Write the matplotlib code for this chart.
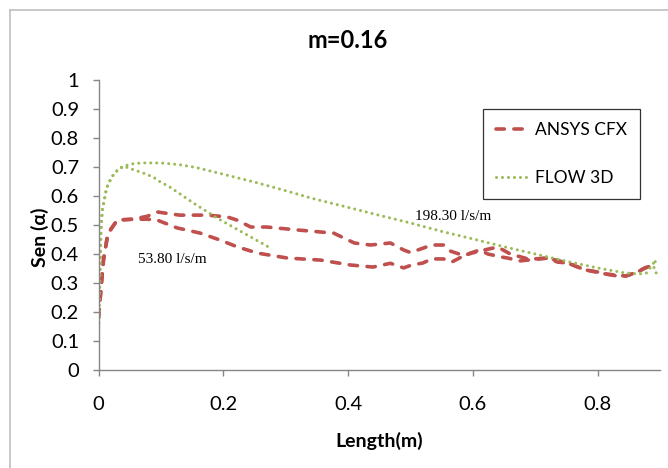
import matplotlib
matplotlib.use("Agg")
import matplotlib.pyplot as plt
from matplotlib.lines import Line2D

# ---- data ----
cfx_198_x = [0, 0.004, 0.008, 0.015, 0.03, 0.055, 0.078, 0.094, 0.13, 0.174, 0.206, 0.222, 0.244, 0.27,
             0.318, 0.377, 0.41, 0.436, 0.468, 0.489, 0.5, 0.52, 0.534, 0.553, 0.564, 0.585, 0.61, 0.64,
             0.66, 0.69, 0.72, 0.752, 0.781, 0.813, 0.845, 0.864, 0.876, 0.89]
cfx_198_y = [0.18, 0.28, 0.38, 0.47, 0.517, 0.52, 0.53, 0.545, 0.534, 0.534, 0.528, 0.517, 0.493, 0.493,
             0.483, 0.472, 0.438, 0.431, 0.438, 0.414, 0.405, 0.42, 0.431, 0.431, 0.41, 0.395, 0.41, 0.424,
             0.40, 0.382, 0.386, 0.369, 0.345, 0.331, 0.324, 0.338, 0.352, 0.362]

cfx_53_x = [0, 0.004, 0.008, 0.015, 0.03, 0.055, 0.078, 0.094, 0.126, 0.163, 0.195, 0.222, 0.255, 0.303,
            0.356, 0.404, 0.44, 0.468, 0.489, 0.502, 0.52, 0.534, 0.553, 0.566, 0.582, 0.596, 0.611, 0.624,
            0.645, 0.656, 0.675, 0.688, 0.707, 0.72, 0.736, 0.752, 0.768, 0.781, 0.8, 0.813, 0.832, 0.845,
            0.864, 0.876, 0.89]
cfx_53_y = [0.18, 0.28, 0.38, 0.47, 0.517, 0.52, 0.52, 0.517, 0.49, 0.472, 0.448, 0.425, 0.403, 0.386,
            0.379, 0.362, 0.355, 0.368, 0.352, 0.362, 0.369, 0.383, 0.383, 0.372, 0.39, 0.403, 0.414, 0.40,
            0.39, 0.386, 0.376, 0.379, 0.383, 0.386, 0.372, 0.369, 0.355, 0.345, 0.338, 0.331, 0.324, 0.324,
            0.338, 0.352, 0.362]

flow_53_x = [0, 0.002, 0.004, 0.006, 0.013, 0.021, 0.032, 0.04, 0.053, 0.072, 0.088, 0.098, 0.115,
             0.152, 0.19, 0.238, 0.276]
flow_53_y = [0.12, 0.30, 0.48, 0.55, 0.628, 0.665, 0.693, 0.703, 0.693, 0.679, 0.665, 0.65, 0.63,
             0.576, 0.524, 0.466, 0.42]

flow_198_x = [0, 0.002, 0.004, 0.006, 0.013, 0.021, 0.032, 0.05, 0.069, 0.1, 0.13, 0.157, 0.2, 0.25, 0.289,
              0.342, 0.396, 0.449, 0.5, 0.55, 0.6, 0.65, 0.7, 0.75, 0.8, 0.84, 0.865, 0.878, 0.887, 0.893,
              0.89, 0.895]
flow_198_y = [0.12, 0.30, 0.48, 0.55, 0.628, 0.665, 0.693, 0.71, 0.714, 0.714, 0.708, 0.698, 0.675, 0.648,
              0.625, 0.592, 0.563, 0.534, 0.507, 0.478, 0.452, 0.425, 0.40, 0.375, 0.352, 0.336, 0.331, 0.334,
              0.36, 0.38, 0.35, 0.33]

xticks = [0, 0.2, 0.4, 0.6, 0.8]
xtick_labels = ["0", "0.2", "0.4", "0.6", "0.8"]
yticks = [0, 0.1, 0.2, 0.3, 0.4, 0.5, 0.6, 0.7, 0.8, 0.9, 1]
ytick_labels = ["0", "0.1", "0.2", "0.3", "0.4", "0.5", "0.6", "0.7", "0.8", "0.9", "1"]

title = "m=0.16"
xlabel = "Length(m)"
ylabel = "Sen (α)"
series_names = ["ANSYS CFX", "FLOW 3D"]
annot_53 = "53.80 l/s/m"
annot_198 = "198.30 l/s/m"

# ---- style ----
plt.rcParams['font.family'] = ['Lato', 'DejaVu Sans']
RED = "#C0504D"
GREEN = "#9BBB59"
AXC = "#868686"

W, H = 668, 468
fig = plt.figure(figsize=(W / 100, H / 100), dpi=100)
ax = fig.add_axes([98.5 / W, (H - 370) / H, (660 - 98.5) / W, 290 / H])

red_kw = dict(color=RED, lw=2.6, dashes=(2.3, 2.65), dash_capstyle='round')
green_kw = dict(color=GREEN, lw=2.2, dashes=(0.01, 1.95), dash_capstyle='round')

ax.plot(cfx_198_x, cfx_198_y, **red_kw)
ax.plot(cfx_53_x, cfx_53_y, **red_kw)
ax.plot(flow_198_x, flow_198_y, **green_kw)
ax.plot(flow_53_x, flow_53_y, **green_kw)

ax.set_xlim(0, 0.9)
ax.set_ylim(0, 1)
ax.set_xticks(xticks)
ax.set_xticklabels(xtick_labels)
ax.set_yticks(yticks)
ax.set_yticklabels(ytick_labels)
for s in ['top', 'right']:
    ax.spines[s].set_visible(False)
for s in ['left', 'bottom']:
    ax.spines[s].set_color(AXC)
    ax.spines[s].set_linewidth(1.0)
ax.tick_params(axis='both', colors=AXC, labelcolor='black', labelsize=14.5, length=4.5, width=1.0, direction='out')
ax.tick_params(axis='x', pad=14.5)
ax.tick_params(axis='y', pad=9.5)

ax.set_xlabel(xlabel, fontsize=14, fontweight='bold')
ax.xaxis.set_label_coords(0.5, -(441 - 370) / 290, transform=ax.transAxes)
ax.xaxis.label.set_va('center')
ax.set_ylabel(ylabel, fontsize=14, fontweight='bold')
ax.yaxis.set_label_coords(-(98.5 - 40) / 561.5, (370 - 237) / 290, transform=ax.transAxes)
ax.yaxis.label.set_va('center')
fig.text(348 / W, 1 - 40 / H, title, ha='center', va='center', fontsize=17, fontweight='bold')

ax.text(0.063, 0.38, annot_53, family='Liberation Serif', fontsize=11, va='center', ha='left')
ax.text(0.508, 0.528, annot_198, family='Liberation Serif', fontsize=11, va='center', ha='left')

handles = [Line2D([], [], **red_kw), Line2D([], [], **green_kw)]
leg = fig.legend(handles, series_names, loc='upper left',
                 bbox_to_anchor=(483 / W, 1 - 109 / H), bbox_transform=fig.transFigure,
                 frameon=True, fancybox=False, edgecolor='black', fontsize=12.5,
                 handlelength=1.85, handletextpad=0.4, labelspacing=1.85, borderpad=0.75,
                 borderaxespad=0)
leg.get_frame().set_linewidth(0.9)

# outer chart border
fig.add_artist(Line2D([10 / W, 10 / W], [0, 1 - 10 / H], transform=fig.transFigure, color='#BFBFBF', lw=1.2))
fig.add_artist(Line2D([10 / W, 1], [1 - 10 / H, 1 - 10 / H], transform=fig.transFigure, color='#BFBFBF', lw=1.2))

fig.savefig("out.png", dpi=100)
